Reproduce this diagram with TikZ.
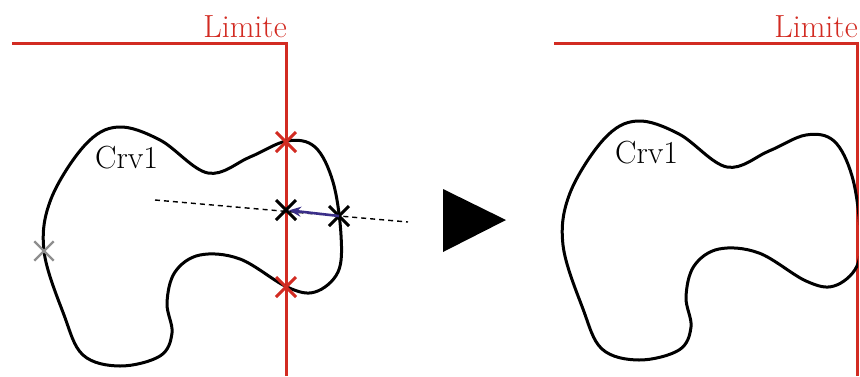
\documentclass[tikz,border=0pt]{standalone}
\usetikzlibrary{arrows.meta, shapes.misc, positioning}
\definecolor{limRed}{HTML}{D22B22}
\definecolor{vecBlue}{HTML}{3A2E88}
\definecolor{markGrey}{HTML}{8E8E8E}
\tikzset{
  % one unit = one pixel of the sketch, y counted downwards
  every picture/.append style = {x=1pt, y=-1pt},
  limite/.style   = {limRed, line width=3pt},
  crv/.style      = {black, line width=3pt},
  probe/.style    = {black, line width=1.4pt, dash pattern=on 5pt off 4pt},
  vecarrow/.style = {vecBlue, line width=2.6pt, -{Stealth[length=12pt, width=10pt]},
                     shorten >=3pt},
  xmark/.style    = {cross out, draw=#1, line width=3pt, minimum size=17pt, inner sep=0pt},
  lbl/.style      = {font=\fontsize{32}{34}\selectfont, inner sep=0pt},
  crvshape/.pic   = {
    \draw[crv] plot[smooth cycle, tension=0.6] coordinates {
      (44,251) (51,199) (85,145) (118,127) (160,140) (208,173) (250,157)
      (287,141) (315,147) (333,182) (341,235) (338,272) (315,292) (287,287)
      (240,259) (200,255) (175,272) (167,303) (172,333) (160,356) (120,366)
      (83,355) (64,315)};
  },
}

\begin{document}
\begin{tikzpicture}
  \useasboundingbox (0,0) rectangle (860,376);
  % before: curve crosses the limit
  \draw[limite] (12,43) -- (286,43) -- (286,376);
  \node[lbl, limRed, anchor=base east] (limL) at (287,37) {Limite};
  \pic at (0,0) {crvshape};
  \node[lbl, anchor=base west] (crvL) at (95,168) {Crv1};
  \coordinate (dashA) at (155,200);
  \coordinate (dashB) at (408,222);
  \draw[probe] (dashA) -- (dashB);
  \node[xmark=limRed] (cTop) at (286,142) {};
  \node[xmark=limRed] (cBot) at (286,287) {};
  \node[xmark=markGrey, line width=2.4pt] (cStart) at (44,251) {};
  \node[xmark=black] (cMid) at (286,210) {};
  \node[xmark=black] (cOut) at (339,216) {};
  \draw[vecarrow] (cOut.center) -- (cMid.center);
  % step
  \fill (443,189) -- (443,252) -- (506,220) -- cycle;
  % after: curve pulled back onto the limit
  \draw[limite] (554,43) -- (857,43) -- (857,376);
  \node[lbl, limRed, anchor=base east] (limR) at (858,37) {Limite};
  \begin{scope}
    \clip (500,0) rectangle (858,376);
    \pic at (519,-6) {crvshape};
  \end{scope}
  \node[lbl, anchor=base west] (crvR) at (615,163) {Crv1};
\end{tikzpicture}
\end{document}
